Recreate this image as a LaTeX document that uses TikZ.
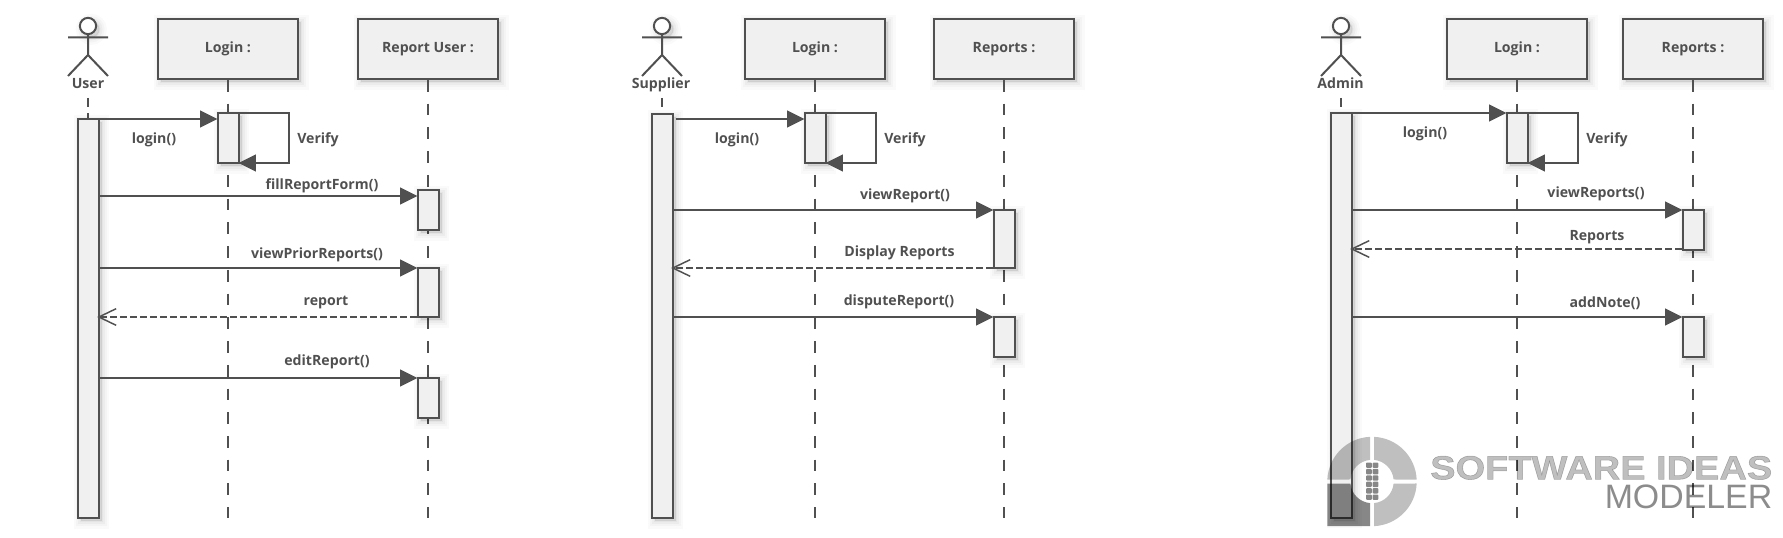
\documentclass[tikz,border=0pt]{standalone}
\usepackage{fontspec}
\setmainfont{Open Sans}
\newfontfamily\logobold[FakeBold=1.6,FakeStretch=1.14]{Liberation Sans Bold}
\newfontfamily\logothin{Liberation Sans}
\usetikzlibrary{arrows.meta}
\definecolor{umlline}{HTML}{505050}
\definecolor{umlfill}{HTML}{F0F0F0}
\tikzset{
	softshadow/.style = {
		preaction = {draw = black, fill = black, opacity = .03, line width = 1.5pt, transform canvas = {xshift = 2.5pt, yshift = -2.5pt}},
		preaction = {draw = black, fill = black, opacity = .03, line width = 4.5pt, transform canvas = {xshift = 2.5pt, yshift = -2.5pt}},
		preaction = {draw = black, fill = black, opacity = .025, line width = 7.5pt, transform canvas = {xshift = 2.5pt, yshift = -2.5pt}},
		preaction = {draw = black, fill = black, opacity = .02, line width = 11pt, transform canvas = {xshift = 2.5pt, yshift = -2.5pt}}},
	objbox/.style = {draw = umlline, fill = umlfill, line width = 1.5pt, minimum width = 105pt, minimum height = 45pt, anchor = north, softshadow},
	acti/.style = {draw = umlline, fill = umlfill, line width = 1.5pt, minimum width = 15.75pt, inner sep = 0pt, outer xsep = .75pt, outer ysep = 0pt, anchor = north, softshadow},
	head/.style = {circle, draw = umlline, fill = white, line width = 1.5pt, minimum size = 12.2pt, inner sep = 0pt, softshadow},
	lbl/.style = {text = umlline, font = \fontsize{10.6pt}{11pt}\selectfont\bfseries, inner sep = 0pt, anchor = base},
	stick/.style = {draw = umlline, line width = 1.5pt},
	life/.style = {draw = umlline, line width = 1.5pt, dash pattern = on 8.8pt off 9pt},
	stub/.style = {draw = umlline, line width = 1.5pt, dash pattern = on 6.4pt off 4.9pt},
	msg/.style = {draw = umlline, line width = 1.5pt, -{Triangle[length = 13pt, width = 12.5pt, sep = -.75pt]}},
	ret/.style = {draw = umlline, line width = 1.5pt, dash pattern = on 5.25pt off 2.25pt, -{Straight Barb[length = 13pt, width = 12.5pt, line width = 1.1pt]}},
	logotext/.style = {text = black, inner sep = 0pt, anchor = base east, text height = 18pt, text depth = 0pt},
}
\begin{document}
\begin{tikzpicture}[x = .75pt, y = -.75pt]
	\useasboundingbox (0,0) rectangle (1783,538);

	% first diagram
	\coordinate (uTop) at (88,0);
	\node[head] (uHead) at (88,26) {};
	\draw[stick, shift = (uTop)] (-20,37.5) -- (20,37.5) (0,34) -- (0,55) (-20,76) -- (0,55) -- (20,76);
	\node[lbl] (uName) at (88,88.7) {User};
	\node[objbox] (uLogin) at (228,18) {};
	\node[objbox] (uReport) at (428,18) {};
	\node[lbl] (uLoginName) at (228,52.3) {Login :};
	\node[lbl] (uReportName) at (428,52.3) {Report User :};
	\coordinate (uEnd) at (88,98);
	\coordinate (uLoginEnd) at (228,518);
	\coordinate (uReportEnd) at (428,518);
	\draw[life] (uLogin.south) -- (uLoginEnd);
	\draw[life] (uReport.south) -- (uReportEnd);
	\draw[stub] (uEnd) -- (88,119);

	\node[acti, minimum height = 299.25pt] (uActi) at (88,119) {};
	\node[acti, minimum height = 37.5pt] (uLoginActi) at (228,113) {};
	\node[acti, minimum height = 30pt] (uFillActi) at (428,190) {};
	\node[acti, minimum height = 36.75pt] (uViewActi) at (428,268) {};
	\node[acti, minimum height = 30pt] (uEditActi) at (428,378) {};

	\coordinate (uLoginIn) at ([yshift = -4.5pt]uLoginActi.north west);
	\coordinate (uFillIn) at ([yshift = -4.5pt]uFillActi.north west);
	\coordinate (uBack) at ([xshift = -1.75pt]uActi.east |- uViewActi.south west);
	\draw[msg] (uActi.east |- uLoginIn) -- (uLoginIn);
	\draw[msg] (uLoginActi.north east) -- ++(49,0) -- ++(0,50) -- (uLoginActi.south east);
	\draw[msg] (uActi.east |- uFillIn) -- (uFillIn);
	\draw[msg] (uActi.east |- uViewActi.north west) -- (uViewActi.north west);
	\draw[ret] (uViewActi.south west) -- (uBack);
	\draw[msg] (uActi.east |- uEditActi.north west) -- (uEditActi.north west);

	\node[lbl] (uLoginMsg) at (154,143.3) {login()};
	\node[lbl] (uVerify) at (318,144) {Verify};
	\node[lbl] (uFillMsg) at (322,190) {fillReportForm()};
	\node[lbl] (uViewMsg) at (317,258.3) {viewPriorReports()};
	\node[lbl] (uRetMsg) at (326,305.7) {report};
	\node[lbl] (uEditMsg) at (327,365) {editReport()};

	% second diagram
	\coordinate (sTop) at (662,0);
	\node[head] (sHead) at (662,26) {};
	\draw[stick, shift = (sTop)] (-20,37.5) -- (20,37.5) (0,34) -- (0,55) (-20,76) -- (0,55) -- (20,76);
	\node[lbl] (sName) at (661,88.7) {Supplier};
	\node[objbox] (sLogin) at (815,18) {};
	\node[objbox] (sReport) at (1004,18) {};
	\node[lbl] (sLoginName) at (815,52.3) {Login :};
	\node[lbl] (sReportName) at (1004,52.3) {Reports :};
	\coordinate (sEnd) at (662,98);
	\coordinate (sLoginEnd) at (815,518);
	\coordinate (sReportEnd) at (1004,518);
	\draw[life] (sLogin.south) -- (sLoginEnd);
	\draw[life] (sReport.south) -- (sReportEnd);
	\draw[stub] (sEnd) -- (662,114);

	\node[acti, minimum height = 303pt] (sActi) at (662,114) {};
	\node[acti, minimum height = 37.5pt] (sLoginActi) at (815,113) {};
	\node[acti, minimum height = 43.5pt] (sViewActi) at (1004,210) {};
	\node[acti, minimum height = 30pt] (sDispActi) at (1004,317) {};

	\coordinate (sLoginIn) at ([yshift = -4.5pt]sLoginActi.north west);
	\coordinate (sBack) at ([xshift = -1.75pt]sActi.east |- sViewActi.south west);
	\draw[msg] ([xshift = 1.5pt]sActi.east |- sLoginIn) -- (sLoginIn);
	\draw[msg] (sLoginActi.north east) -- ++(49,0) -- ++(0,50) -- (sLoginActi.south east);
	\draw[msg] (sActi.east |- sViewActi.north west) -- (sViewActi.north west);
	\draw[ret] (sViewActi.south west) -- (sBack);
	\draw[msg] (sActi.east |- sDispActi.north west) -- (sDispActi.north west);

	\node[lbl] (sLoginMsg) at (737,143.3) {login()};
	\node[lbl] (sVerify) at (905,144) {Verify};
	\node[lbl] (sViewMsg) at (905,200) {viewReport()};
	\node[lbl] (sRetMsg) at (899.5,256.7) {Display Reports};
	\node[lbl] (sDispMsg) at (899,305.7) {disputeReport()};

	% third diagram
	\coordinate (aTop) at (1341,0);
	\node[head] (aHead) at (1341,26) {};
	\draw[stick, shift = (aTop)] (-20,37.5) -- (20,37.5) (0,34) -- (0,55) (-20,76) -- (0,55) -- (20,76);
	\node[lbl] (aName) at (1340.5,88.7) {Admin};
	\node[objbox] (aLogin) at (1517,18) {};
	\node[objbox] (aReport) at (1693,18) {};
	\node[lbl] (aLoginName) at (1517,52.3) {Login :};
	\node[lbl] (aReportName) at (1693,52.3) {Reports :};
	\coordinate (aEnd) at (1341,98);
	\coordinate (aLoginEnd) at (1517,518);
	\coordinate (aReportEnd) at (1693,518);
	\draw[life] (aLogin.south) -- (aLoginEnd);
	\draw[life] (aReport.south) -- (aReportEnd);
	\draw[stub] (aEnd) -- (1341,113);

	\node[acti, minimum height = 303.4pt] (aActi) at (1341,113) {};
	\node[acti, minimum height = 37.5pt] (aLoginActi) at (1517,113) {};
	\node[acti, minimum height = 30pt] (aViewActi) at (1693,210) {};
	\node[acti, minimum height = 30pt] (aNoteActi) at (1693,317) {};

	\coordinate (aOut) at ([yshift = .75pt]aViewActi.south west);
	\coordinate (aBack) at ([xshift = -1.75pt]aActi.east |- aOut);
	\draw[msg] (aActi.north east) -- (aLoginActi.west |- aActi.north east);
	\draw[msg] (aLoginActi.north east) -- ++(49,0) -- ++(0,50) -- (aLoginActi.south east);
	\draw[msg] (aActi.east |- aViewActi.north west) -- (aViewActi.north west);
	\draw[ret] (aOut) -- (aBack);
	\draw[msg] (aActi.east |- aNoteActi.north west) -- (aNoteActi.north west);

	\node[lbl] (aLoginMsg) at (1425,137.3) {login()};
	\node[lbl] (aVerify) at (1607,144) {Verify};
	\node[lbl] (aViewMsg) at (1596,197.3) {viewReports()};
	\node[lbl] (aRetMsg) at (1597,240.7) {Reports};
	\node[lbl] (aNoteMsg) at (1605,307.3) {addNote()};

	% watermark
	\begin{scope}[shift = {(1372,481.5)}, x = .75pt, y = .75pt]
		\foreach \a in {0,90,270}
			\fill[rotate = \a, black, opacity = .25] (2.56:44.7) arc (2.56:87.44:44.7) -- (84.7:21.7) arc (84.7:5.3:21.7) -- cycle;
		\fill[black, opacity = .47] (-2,-44.7) -- (-44.7,-44.7) -- (-44.7,-2) -- (-21.6,-2) arc (185.3:264.7:21.7) -- cycle;
		\foreach \r in {0,...,5}
			\foreach \c in {0,1}
				\fill[black, opacity = .47, rounded corners = .7pt] ({-6+6.6*\c},{19-6.4*\r}) rectangle ++(5.8,-5.4);
	\end{scope}
	\node[logotext, text opacity = .25, font = \logobold\fontsize{25pt}{25pt}\selectfont] (logoTop) at (1772.5,479.3) {SOFTWARE IDEAS};
	\node[logotext, text opacity = .45, font = \logothin\fontsize{25.4pt}{25pt}\selectfont] (logoBottom) at (1772.5,508.3) {MODELER};
\end{tikzpicture}
\end{document}
